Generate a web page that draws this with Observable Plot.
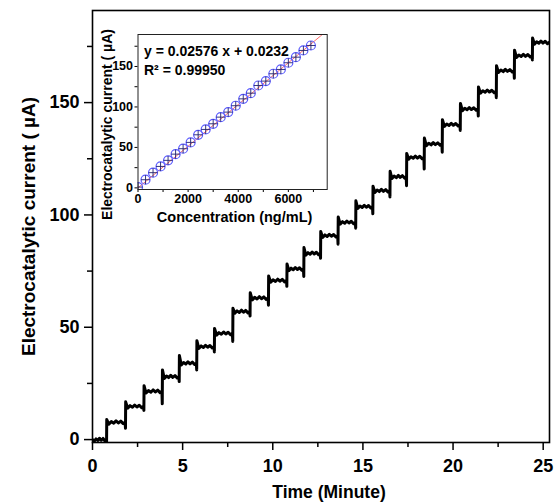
<!DOCTYPE html>
<html><head><meta charset="utf-8">
<script src="https://cdn.jsdelivr.net/npm/d3@7"></script>
<script src="https://cdn.jsdelivr.net/npm/@observablehq/plot@0.6"></script>
<style>
body{margin:0;background:#fff;}
#wrap{position:relative;width:554px;height:502px;}
#wrap svg{position:absolute;}
</style></head><body><div id="wrap"></div>
<script>
// ---- main chart data ----
const stepTimes = [0.78, 1.83, 2.85, 3.87, 4.81, 5.78, 6.76, 7.78, 8.74, 9.76, 10.78, 11.72, 12.65, 13.62, 14.6, 15.55, 16.5, 17.42, 18.4, 19.4, 20.4, 21.4, 22.4, 23.4, 24.4];
const levels = [0, 7.7, 14.8, 21.5, 28, 34, 41.4, 47.3, 57, 63, 70.8, 76, 82.9, 90.8, 96.7, 103.7, 110.8, 117, 125.6, 131.6, 140.2, 147.2, 155, 164.2, 170.9, 176.8];
const stepDips = [1.5, 2.7, 1.8, 5.6, 2.2, 3.0, 2.4, 3.6, 2.0, 3.2, 2.6, 3.4, 2.2, 3.8, 2.6, 3.2, 2.8, 4.0, 5.2, 3.7, 2.6, 3.2, 2.8, 3.4, 1.9];
const stepOvershoots = [1.2, 2.0, 2.5, 3.0, 3.4, 2.6, 2.2, 1.5, 2.4, 2.0, 2.2, 2.6, 1.8, 2.4, 2.6, 2.0, 2.4, 1.8, 2.6, 2.2, 2.4, 2.0, 2.2, 2.4, 2.0];
const plateauWiggleFrac = [0.12, 0.25, 0.38, 0.5, 0.62, 0.75, 0.88];
const plateauWiggle = [-0.8, 0.3, -0.4, 0.6, -0.3, 0.5, -0.6];
const endTime = 25.35;
const xMajorTicks = [0, 5, 10, 15, 20, 25];
const xMinorTicks = [2.5, 7.5, 12.5, 17.5, 22.5];
const yMajorTicks = [0, 50, 100, 150];
const yMinorTicks = [25, 75, 125, 175];

// ---- inset data ----
const concentrations = [0, 300, 600, 900, 1200, 1500, 1800, 2100, 2400, 2700, 3000, 3300, 3600, 3900, 4200, 4500, 4800, 5100, 5400, 5700, 6000, 6300, 6600, 6900];
const insetCurrents = [1, 10.1, 18.8, 26.5, 34, 41.7, 48.4, 56.2, 65.6, 72.2, 79.2, 87.4, 93.6, 101.5, 110, 117, 126.5, 131.9, 141, 146.3, 154.6, 161.5, 169.8, 175.9];
const fitSlope = 0.02576, fitIntercept = 0.0232;
const insetXMajor = [0, 2000, 4000, 6000];
const insetXMinor = [1000, 3000, 5000, 7000];
const insetYMajor = [0, 50, 100, 150];
const insetYMinor = [25, 75, 125, 175];

const FONT = "'Liberation Sans', Arial, Helvetica, sans-serif";

// build trace polyline from the step data
const bounds = [0, ...stepTimes, endTime];
const trace = [];
for (let p = 0; p < levels.length; p++) {
  const t0 = bounds[p], t1 = bounds[p + 1], L = levels[p];
  if (p === 0) trace.push({t: t0, v: L});
  else {
    trace.push({t: t0, v: levels[p - 1] - stepDips[p - 1]});
    trace.push({t: t0 + 0.01, v: L + stepOvershoots[p - 1]});
  }
  plateauWiggleFrac.forEach((f, k) => trace.push({t: t0 + f * (t1 - t0), v: L + plateauWiggle[k]}));
  trace.push({t: t1 - 0.02, v: L});
}

const main = Plot.plot({
  width: 554, height: 502,
  marginLeft: 92, marginRight: 5, marginTop: 10, marginBottom: 60,
  style: {fontFamily: FONT, fontWeight: "bold", fontSize: "18px", color: "black", background: "white"},
  x: {domain: [0, endTime]},
  y: {domain: [-1.3, 191]},
  marks: [
    Plot.axisX({ticks: xMajorTicks, tickSize: 8, tickPadding: 9, label: null, strokeWidth: 1.5, fontSize: 18, fontWeight: "bold", tickFormat: d => String(d)}),
    Plot.axisX({ticks: xMinorTicks, tickSize: 5, text: null, label: null, strokeWidth: 1.5}),
    Plot.axisY({ticks: yMajorTicks, tickSize: 8, tickPadding: 5, label: null, strokeWidth: 1.5, fontSize: 18, fontWeight: "bold", tickFormat: d => String(d)}),
    Plot.axisY({ticks: yMinorTicks, tickSize: 5, text: null, label: null, strokeWidth: 1.5}),
    Plot.line(trace, {x: "t", y: "v", stroke: "black", strokeWidth: 3, clip: true}),
    Plot.frame({stroke: "black", strokeWidth: 1.6}),
    Plot.text(["Time (Minute)"], {frameAnchor: "bottom", dx: 8, dy: 50, lineAnchor: "middle", textAnchor: "middle", fontSize: 17.5, fontWeight: "bold", fontFamily: FONT, fill: "black"}),
    Plot.text(["Electrocatalytic current ( µA)"], {frameAnchor: "left", dx: -64, rotate: -90, lineAnchor: "middle", textAnchor: "middle", fontSize: 19, fontWeight: "bold", fontFamily: FONT, fill: "black"})
  ]
});
main.style.left = "0px"; main.style.top = "0px";

const insetPts = concentrations.map((c, i) => ({c, v: insetCurrents[i]}));
const fitLine = [0, 7550].map(c => ({c, v: fitSlope * c + fitIntercept}));
const crossSymbol = {
  draw(ctx, size) {
    const r = Math.sqrt(size / Math.PI);
    ctx.moveTo(-r, 0); ctx.lineTo(r, 0);
    ctx.moveTo(0, -r); ctx.lineTo(0, r);
  }
};

const inset = Plot.plot({
  width: 240, height: 205,
  marginLeft: 42.5, marginRight: 8.3, marginTop: 9, marginBottom: 41,
  style: {fontFamily: FONT, fontWeight: "bold", fontSize: "12px", color: "black", background: "transparent", overflow: "visible"},
  x: {domain: [0, 7550]},
  y: {domain: [-2, 189.5]},
  marks: [
    Plot.axisX({ticks: insetXMajor, tickSize: 3, tickPadding: 2, label: null, fontSize: 12.5, fontWeight: "bold", tickFormat: d => String(d)}),
    Plot.axisX({ticks: insetXMinor, tickSize: 3, text: null, label: null}),
    Plot.axisY({ticks: insetYMajor, tickSize: 3, tickPadding: 2, label: null, fontSize: 12.5, fontWeight: "bold", tickFormat: d => String(d)}),
    Plot.axisY({ticks: insetYMinor, tickSize: 3, text: null, label: null}),
    Plot.line(fitLine, {x: "c", y: "v", stroke: "#ff6b6b", strokeWidth: 1, clip: true}),
    Plot.dot(insetPts, {x: "c", y: "v", r: 4.5, stroke: "#5c5cff", strokeWidth: 1.2, fill: "none", clip: true}),
    Plot.dot(insetPts, {x: "c", y: "v", r: 4.5, symbol: crossSymbol, stroke: "#22226e", strokeWidth: 0.9, clip: true}),
    Plot.frame({stroke: "#222", strokeWidth: 1}),
    Plot.text(["y = 0.02576 x + 0.0232"], {frameAnchor: "top-left", dx: 6, dy: 12, lineAnchor: "top", textAnchor: "start", fontSize: 14, fontWeight: "bold", fontFamily: FONT, fill: "black"}),
    Plot.text(["R² = 0.99950"], {frameAnchor: "top-left", dx: 6, dy: 31, lineAnchor: "top", textAnchor: "start", fontSize: 14, fontWeight: "bold", fontFamily: FONT, fill: "black"}),
    Plot.text(["Concentration (ng/mL)"], {frameAnchor: "bottom", dx: 2, dy: 28, lineAnchor: "middle", textAnchor: "middle", fontSize: 14.5, fontWeight: "bold", fontFamily: FONT, fill: "black"}),
    Plot.text(["Electrocatalytic current ( µA)"], {frameAnchor: "left", dx: -30.5, dy: 12.5, rotate: -90, lineAnchor: "middle", textAnchor: "middle", fontSize: 14, fontWeight: "bold", fontFamily: FONT, fill: "black"})
  ]
});
inset.style.left = "95px"; inset.style.top = "25px";

const wrap = document.getElementById("wrap");
wrap.appendChild(main);
wrap.appendChild(inset);
</script></body></html>
